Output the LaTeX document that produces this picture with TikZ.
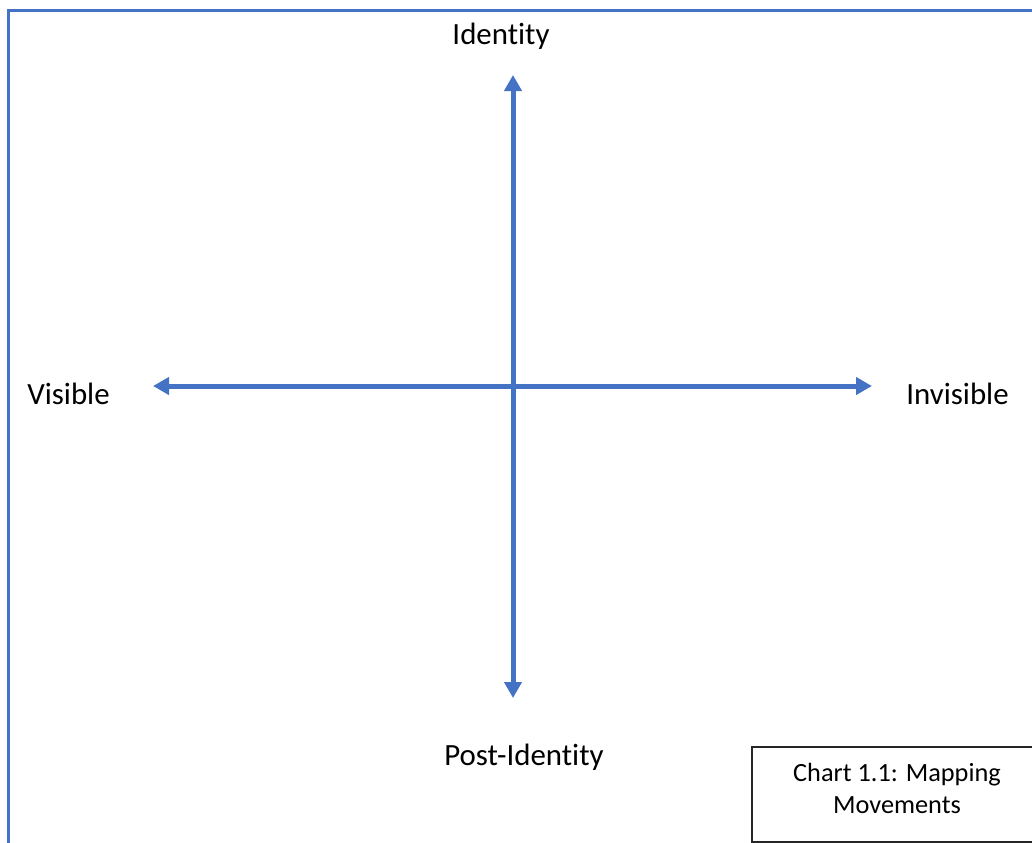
\documentclass[tikz,border=0pt]{standalone}
\usepackage{fontspec}
\setmainfont{Carlito}[Ligatures=NoCommon]
\usetikzlibrary{positioning,arrows.meta}
\definecolor{axisColor}{HTML}{4472C4}
\definecolor{boxColor}{HTML}{262626}
\tikzstyle{canvas} = [x = 1bp, y = -1bp]
\tikzstyle{frameLine} = [color=axisColor, line width=3bp]
\tikzstyle{axisLine} = [color=axisColor, line width=5bp, {Triangle[length=16bp, width=17bp]}-{Triangle[length=16bp, width=17bp]}]
\tikzstyle{axisText} = [font=\fontsize{31}{37}\selectfont, anchor=base, inner sep=0pt]
\tikzstyle{captionBox} = [draw=boxColor, line width=2bp]
\tikzstyle{captionText} = [font=\fontsize{26.4}{31.5}\selectfont, align=center, anchor=base, inner sep=0pt]

\begin{document}
\begin{tikzpicture}[canvas]
  \useasboundingbox (0,0) rectangle (1032,843);
  % outer frame, only its left and top edges are on the page
  \draw [frameLine] (8.5,10) rectangle (1045,855);

  % axis labels
  \node [axisText] (identity) at (501,44) {Identity};
  \node [axisText] (visible) at (68.5,404) {Visible};
  \node [axisText] (invisible) at (957.5,404) {Invisible};
  \node [axisText] (postIdentity) at (524,765) {Post-Identity};

  % arrow ends
  \coordinate (topEnd) at (513,75);
  \coordinate (bottomEnd) at (513,698);
  \coordinate (leftEnd) at (153,386);
  \coordinate (rightEnd) at (872,386);

  \draw [axisLine] (leftEnd) -- (rightEnd);
  \draw [axisLine] (topEnd) -- (bottomEnd);

  % caption
  \draw [captionBox] (752,747) rectangle (1042,842);
  \node [captionText] (chartTitle) at (897,813) {Chart 1.1: Mapping\\Movements};
\end{tikzpicture}
\end{document}
